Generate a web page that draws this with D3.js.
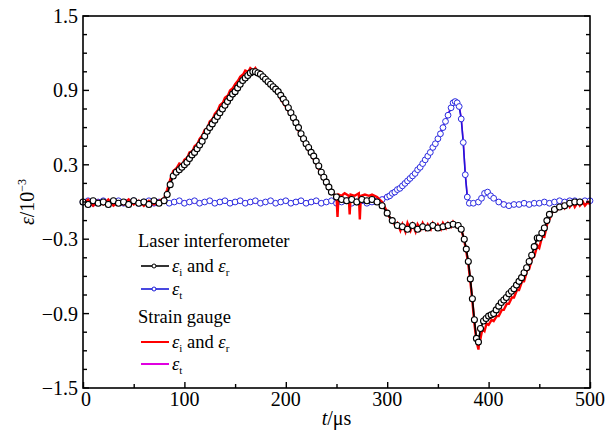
<!DOCTYPE html>
<html lang="en">
<head>
<meta charset="utf-8">
<script src="https://d3js.org/d3.v7.min.js"></script>
<style>
  html, body { margin: 0; padding: 0; background: #fff; }
  svg { display: block; font-family: "Liberation Serif", "DejaVu Serif", serif; }
  .axis text { font-size: 20px; fill: #000; }
  .legend text { font-size: 18.5px; fill: #000; }
</style>
</head>
<body>
<script>
// ---- data (t in µs, strain in 10^-3) ----
// laser interferometer, incident + reflected
var laserIR = [[0,0.00],[5,-0.02],[10,0.01],[15,-0.01],[20,0.00],[25,-0.02],[30,0.01],[35,-0.01],[40,0.00],
  [45,-0.02],[50,0.01],[55,-0.01],[60,0.00],[65,-0.02],[70,0.01],[75,-0.01],[80,0.01],[83,0.06],[86,0.14],
  [89,0.21],[92,0.24],[95,0.26],[97.5,0.28],[100,0.30],[102.5,0.32],[105,0.35],[107.5,0.38],[110,0.40],
  [112.5,0.43],[115,0.46],[117.5,0.49],[120,0.53],[122.5,0.57],[125,0.60],[127.5,0.63],[130,0.66],
  [132.5,0.69],[135,0.72],[137.5,0.75],[140,0.78],[142.5,0.81],[145,0.84],[147.5,0.87],[150,0.89],
  [152.5,0.92],[155,0.95],[157.5,0.98],[160,1.00],[162.5,1.02],[165,1.04],[167.5,1.05],[170,1.05],
  [172.5,1.04],[175,1.03],[177.5,1.01],[180,0.99],[182.5,0.97],[185,0.95],[187.5,0.93],[190,0.91],
  [192.5,0.89],[195,0.86],[197.5,0.83],[200,0.80],[202.5,0.76],[205,0.72],[207.5,0.68],[210,0.64],
  [212.5,0.60],[215,0.55],[217.5,0.51],[220,0.47],[222.5,0.44],[225,0.40],[227.5,0.37],[230,0.33],
  [232.5,0.29],[235,0.24],[237.5,0.20],[240,0.16],[242.5,0.12],[245,0.08],[250,0.04],[255,0.02],[260,0.01],
  [265,0.02],[270,0.00],[275,0.02],[280,0.01],[285,0.02],[290,0.00],[295,-0.03],[300,-0.09],[305,-0.15],
  [310,-0.19],[315,-0.20],[320,-0.22],[325,-0.19],[330,-0.22],[335,-0.20],[340,-0.21],[345,-0.19],
  [350,-0.21],[355,-0.20],[360,-0.19],[365,-0.18],[370,-0.19],[373,-0.22],[376,-0.30],[378,-0.38],
  [380,-0.48],[382,-0.62],[384,-0.78],[386,-0.95],[388,-1.10],[390,-1.13],[392,-1.02],[395,-0.96],
  [397.5,-0.94],[400,-0.92],[402.5,-0.91],[405,-0.90],[407.5,-0.87],[410,-0.84],[412.5,-0.81],
  [415,-0.79],[417.5,-0.77],[420,-0.74],[422.5,-0.72],[425,-0.70],[427.5,-0.67],[430,-0.64],
  [432.5,-0.61],[435,-0.57],[437.5,-0.53],[440,-0.48],[442.5,-0.43],[445,-0.36],[448,-0.29],[450,-0.29],
  [452.5,-0.25],[455,-0.21],[457.5,-0.15],[460,-0.10],[465,-0.06],[470,-0.04],[475,-0.03],[480,-0.01],
  [485,0.00],[490,0.00]];

// laser interferometer, transmitted
var laserT = [[0,0.00],[5,0.01],[10,-0.01],[15,0.00],[20,0.01],[25,-0.01],[30,0.00],[35,0.01],[40,-0.01],
  [45,0.00],[50,0.01],[55,-0.01],[60,0.00],[65,0.01],[70,-0.01],[75,0.00],[80,0.01],[85,-0.01],[90,0.00],
  [95,0.01],[100,-0.01],[105,0.00],[110,0.01],[115,-0.01],[120,0.00],[125,0.01],[130,-0.01],[135,0.00],
  [140,0.01],[145,-0.01],[150,0.00],[155,0.01],[160,-0.01],[165,0.00],[170,0.01],[175,-0.01],[180,0.00],
  [185,0.01],[190,-0.01],[195,0.00],[200,0.01],[205,-0.01],[210,0.00],[215,0.01],[220,-0.01],[225,0.00],
  [230,0.01],[235,-0.01],[240,0.00],[245,0.01],[250,-0.01],[255,0.00],[260,0.01],[265,-0.01],[270,0.00],
  [275,0.01],[280,-0.01],[285,0.00],[290,0.01],[295,0.02],[300,0.04],[302.5,0.05],[305,0.07],[307.5,0.08],
  [310,0.10],[312.5,0.11],[315,0.13],[317.5,0.15],[320,0.17],[322.5,0.19],[325,0.21],[327.5,0.23],
  [330,0.26],[332.5,0.28],[335,0.31],[337.5,0.34],[340,0.37],[342.5,0.40],[345,0.44],[347.5,0.47],
  [350,0.51],[352.5,0.55],[355,0.60],[357.5,0.65],[360,0.70],[363,0.76],[365,0.80],[367,0.81],[369,0.80],
  [371,0.77],[373,0.67],[375,0.48],[377,0.22],[379,0.04],[381,-0.01],[385,-0.01],[390,0.00],[393,0.03],
  [396,0.07],[399,0.08],[402,0.05],[405,0.03],[410,0.00],[415,-0.02],[420,-0.03],[425,-0.02],[430,-0.02],
  [435,-0.01],[440,-0.02],[445,-0.01],[450,-0.01],[455,0.00],[460,-0.01],[465,0.00],[470,0.01],[475,0.00],
  [480,0.01],[485,0.01],[490,0.00],[495,0.01],[500,0.01]];

// strain gauge, incident + reflected
var gaugeIR = [[0,-0.01],[5,0.02],[10,-0.03],[15,0.01],[20,-0.02],[25,0.02],[30,-0.03],[35,0.00],[40,-0.02],
  [45,0.02],[50,-0.02],[55,0.01],[60,-0.03],[65,0.01],[70,-0.02],[75,0.01],[80,0.03],[83,0.10],[86,0.18],
  [89,0.25],[92,0.27],[95,0.31],[98,0.30],[100,0.34],[103,0.36],[105,0.40],[108,0.41],[110,0.45],[113,0.47],
  [115,0.51],[118,0.54],[120,0.58],[123,0.60],[125,0.65],[128,0.67],[130,0.71],[133,0.74],[135,0.78],
  [138,0.80],[140,0.84],[143,0.86],[145,0.90],[148,0.92],[150,0.95],[153,0.98],[155,1.01],[158,1.03],
  [160,1.06],[163,1.05],[165,1.08],[168,1.06],[170,1.08],[173,1.04],[175,1.05],[178,1.00],[180,1.01],
  [185,0.95],[188,0.94],[190,0.89],[193,0.87],[195,0.83],[200,0.77],[205,0.70],[210,0.62],[215,0.53],
  [220,0.45],[225,0.38],[230,0.31],[235,0.22],[240,0.14],[245,0.07],[248,0.06],[250,0.05],[251,-0.12],
  [252,0.06],[255,0.05],[258,0.07],[262,0.05],[263,-0.10],[264,0.06],[268,0.05],[272,0.07],[273,-0.14],
  [274,0.05],[278,0.06],[282,0.05],[285,0.06],[290,0.04],[295,0.00],[300,-0.08],[302,-0.12],[305,-0.15],
  [308,-0.19],[310,-0.17],[313,-0.23],[315,-0.18],[318,-0.24],[320,-0.17],[323,-0.23],[325,-0.18],
  [328,-0.24],[330,-0.18],[333,-0.22],[335,-0.17],[338,-0.22],[340,-0.18],[343,-0.22],[345,-0.17],
  [348,-0.21],[350,-0.18],[353,-0.22],[355,-0.17],[358,-0.21],[360,-0.17],[363,-0.20],[365,-0.16],
  [368,-0.20],[370,-0.18],[373,-0.22],[376,-0.31],[378,-0.40],[380,-0.50],[382,-0.64],[384,-0.80],
  [386,-0.98],[388,-1.12],[390,-1.19],[391,-1.08],[392,-1.10],[394,-1.02],[396,-1.04],[398,-0.98],
  [400,-0.99],[403,-0.95],[405,-0.96],[408,-0.92],[410,-0.92],[413,-0.87],[415,-0.87],[418,-0.82],
  [420,-0.82],[423,-0.77],[425,-0.77],[428,-0.71],[430,-0.71],[433,-0.64],[435,-0.64],[438,-0.55],
  [440,-0.54],[443,-0.45],[445,-0.44],[448,-0.35],[450,-0.37],[453,-0.27],[455,-0.28],[458,-0.17],
  [460,-0.14],[463,-0.08],[465,-0.08],[470,-0.05],[473,-0.02],[475,-0.05],[478,-0.01],[480,-0.04],
  [483,0.00],[485,-0.04],[488,0.00],[490,-0.03],[493,0.00],[495,-0.03],[498,0.00],[500,-0.02]];

// strain gauge, transmitted
var gaugeT = [[0,0.01],[10,-0.01],[20,0.01],[30,-0.01],[40,0.01],[50,-0.01],[60,0.01],[70,-0.01],[80,0.01],
  [90,-0.01],[100,0.01],[110,-0.01],[120,0.01],[130,-0.01],[140,0.01],[150,-0.01],[160,0.01],[170,-0.01],
  [180,0.01],[190,-0.01],[200,0.01],[210,-0.01],[220,0.01],[230,-0.01],[240,0.01],[250,-0.01],[260,0.01],
  [270,-0.01],[280,0.01],[290,0.02],[300,0.05],[310,0.11],[320,0.18],[330,0.27],[340,0.38],[350,0.52],
  [360,0.71],[365,0.81],[368,0.82],[371,0.78],[373,0.68],[375,0.49],[377,0.23],[379,0.05],[381,-0.01],
  [390,0.01],[396,0.08],[400,0.07],[405,0.04],[410,0.01],[420,-0.02],[430,-0.01],[440,-0.01],[450,0.00],
  [460,0.00],[470,0.01],[480,0.02],[490,0.01],[500,0.02]];

var xTicks = [0, 100, 200, 300, 400, 500];
var xMinor = [50, 150, 250, 350, 450];
var yTicks = [-1.5, -0.9, -0.3, 0.3, 0.9, 1.5];
var yMinor = [-1.35, -1.2, -1.05, -0.75, -0.6, -0.45, -0.15, 0, 0.15, 0.45, 0.6, 0.75, 1.05, 1.2, 1.35];

drawChart();

function drawChart() {
  var W = 614, H = 434;
  var pL = 83, pR = 590, pT = 16, pB = 388;

  var svg = d3.select("body").append("svg").attr("width", W).attr("height", H);

  var x = d3.scaleLinear().domain([0, 500]).range([pL, pR]);
  var y = d3.scaleLinear().domain([-1.5, 1.5]).range([pB, pT]);

  var line = d3.line().x(function(d) { return x(d[0]); }).y(function(d) { return y(d[1]); });

  var plot = svg.append("g");

  // strain gauge transmitted (magenta)
  plot.append("path").datum(gaugeT).attr("d", line)
    .attr("fill", "none").attr("stroke", "#e000e0").attr("stroke-width", 1.5);

  // laser transmitted (blue)
  plot.append("path").datum(laserT).attr("d", line)
    .attr("fill", "none").attr("stroke", "#1a1ad8").attr("stroke-width", 1.6);
  plot.append("g").selectAll("circle").data(laserT).enter().append("circle")
    .attr("cx", function(d) { return x(d[0]); })
    .attr("cy", function(d) { return y(d[1]); })
    .attr("r", 2.9).attr("fill", "#fff").attr("stroke", "#2a2ae0").attr("stroke-width", 1);

  // strain gauge incident/reflected (red)
  plot.append("path").datum(gaugeIR).attr("d", line)
    .attr("fill", "none").attr("stroke", "#ff0000").attr("stroke-width", 2.4);

  // laser incident/reflected (black)
  plot.append("path").datum(laserIR).attr("d", line)
    .attr("fill", "none").attr("stroke", "#000").attr("stroke-width", 1.7);
  plot.append("g").selectAll("circle").data(laserIR).enter().append("circle")
    .attr("cx", function(d) { return x(d[0]); })
    .attr("cy", function(d) { return y(d[1]); })
    .attr("r", 3).attr("fill", "#fff").attr("stroke", "#000").attr("stroke-width", 1.1);

  // ---- axes ----
  svg.append("rect").attr("x", pL).attr("y", pT)
    .attr("width", pR - pL).attr("height", pB - pT)
    .attr("fill", "none").attr("stroke", "#000").attr("stroke-width", 1.6);

  var ax = svg.append("g").attr("class", "axis");

  // bottom ticks (inward)
  ax.append("g").attr("transform", "translate(0," + pB + ")")
    .call(d3.axisTop(x).tickValues(xMinor).tickSize(4).tickFormat(""))
    .call(function(g) { g.select(".domain").remove(); });
  ax.append("g").attr("transform", "translate(0," + pB + ")")
    .call(d3.axisTop(x).tickValues(xTicks).tickSize(6).tickFormat(""))
    .call(function(g) { g.select(".domain").remove(); });
  ax.selectAll("line").attr("stroke-width", 1.4);

  // x labels
  ax.append("g").selectAll("text").data(xTicks).enter().append("text")
    .attr("x", function(d) { return x(d) + (d === 0 ? 3 : 0); })
    .attr("y", pB + 18)
    .attr("text-anchor", "middle")
    .text(function(d) { return d; });

  // left and right ticks (inward)
  [[pL, 1], [pR, -1]].forEach(function(s) {
    var g = ax.append("g");
    g.selectAll("line.mj").data(yTicks).enter().append("line")
      .attr("x1", s[0]).attr("x2", s[0] + s[1] * 6)
      .attr("y1", function(d) { return y(d); }).attr("y2", function(d) { return y(d); })
      .attr("stroke", "#000").attr("stroke-width", 1.4);
    g.selectAll("line.mn").data(yMinor).enter().append("line")
      .attr("x1", s[0]).attr("x2", s[0] + s[1] * 4)
      .attr("y1", function(d) { return y(d); }).attr("y2", function(d) { return y(d); })
      .attr("stroke", "#000").attr("stroke-width", 1.4);
  });

  // y labels
  ax.append("g").selectAll("text").data(yTicks).enter().append("text")
    .attr("x", pL - 5)
    .attr("y", function(d) { return y(d) + 7; })
    .attr("text-anchor", "end")
    .text(function(d) { return d < 0 ? "\u2212" + Math.abs(d).toFixed(1) : d.toFixed(1); });

  // axis titles
  var xt = ax.append("text").attr("x", (pL + pR) / 2).attr("y", 425).attr("text-anchor", "middle");
  xt.append("tspan").attr("font-style", "italic").text("t");
  xt.append("tspan").text("/\u03bcs");

  var yt = ax.append("text").attr("transform", "translate(34," + ((pT + pB) / 2) + ") rotate(-90)")
    .attr("text-anchor", "middle");
  yt.append("tspan").attr("font-style", "italic").text("\u03b5");
  yt.append("tspan").text("/10");
  yt.append("tspan").attr("font-size", "12px").attr("dy", -8).text("\u22123");

  // ---- legend ----
  var lg = svg.append("g").attr("class", "legend");
  var lx = 138;

  lg.append("text").attr("x", lx).attr("y", 247).text("Laser interferometer");
  lg.append("text").attr("x", lx).attr("y", 323).text("Strain gauge");

  var rows = [
    {yy: 266, color: "#000", marker: true, sub: "i", both: true},
    {yy: 289, color: "#1a1ad8", marker: true, sub: "t", both: false},
    {yy: 342, color: "#ff0000", marker: false, sub: "i", both: true},
    {yy: 364, color: "#e000e0", marker: false, sub: "t", both: false}
  ];
  rows.forEach(function(r) {
    lg.append("line").attr("x1", lx + 3).attr("x2", lx + 31).attr("y1", r.yy).attr("y2", r.yy)
      .attr("stroke", r.color).attr("stroke-width", r.marker ? 1.6 : 2);
    if (r.marker) {
      lg.append("circle").attr("cx", lx + 16).attr("cy", r.yy).attr("r", 2)
        .attr("fill", "#fff").attr("stroke", r.color).attr("stroke-width", 1);
    }
    var t = lg.append("text").attr("x", lx + 34).attr("y", r.yy + 6);
    t.append("tspan").attr("font-style", "italic").text("\u03b5");
    t.append("tspan").attr("font-size", "11px").attr("dy", 4).text(r.sub);
    if (r.both) {
      t.append("tspan").attr("dy", -4).text(" and ");
      t.append("tspan").attr("font-style", "italic").text("\u03b5");
      t.append("tspan").attr("font-size", "11px").attr("dy", 4).text("r");
    }
  });
}
</script>
</body>
</html>
